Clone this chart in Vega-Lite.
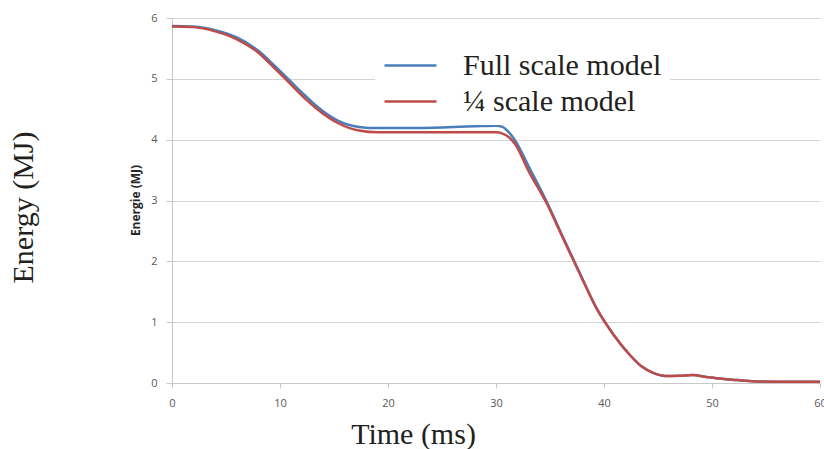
{
  "$schema": "https://vega.github.io/schema/vega-lite/v6.json",
  "width": 648,
  "height": 365,
  "autosize": {"type": "none"},
  "padding": {"left": 172, "top": 18, "right": 4, "bottom": 66},
  "background": "white",
  "title": {
    "text": "Energy (MJ)",
    "orient": "left",
    "anchor": "middle",
    "frame": "group",
    "font": "Liberation Serif",
    "fontSize": 30,
    "fontWeight": "normal",
    "color": "#231f20",
    "offset": 90,
    "dx": -7
  },
  "config": {
    "view": {"stroke": null}
  },
  "data": {
    "values": [
      {"t": 0, "e": 5.87, "model": "Full scale model"},
      {"t": 2, "e": 5.86, "model": "Full scale model"},
      {"t": 4, "e": 5.8, "model": "Full scale model"},
      {"t": 6, "e": 5.68, "model": "Full scale model"},
      {"t": 8, "e": 5.46, "model": "Full scale model"},
      {"t": 9.3, "e": 5.25, "model": "Full scale model"},
      {"t": 10.8, "e": 4.99, "model": "Full scale model"},
      {"t": 12.3, "e": 4.73, "model": "Full scale model"},
      {"t": 13.9, "e": 4.48, "model": "Full scale model"},
      {"t": 15.4, "e": 4.31, "model": "Full scale model"},
      {"t": 17.3, "e": 4.21, "model": "Full scale model"},
      {"t": 19.1, "e": 4.19, "model": "Full scale model"},
      {"t": 22, "e": 4.19, "model": "Full scale model"},
      {"t": 25, "e": 4.2, "model": "Full scale model"},
      {"t": 28, "e": 4.22, "model": "Full scale model"},
      {"t": 30, "e": 4.23, "model": "Full scale model"},
      {"t": 30.6, "e": 4.21, "model": "Full scale model"},
      {"t": 31.2, "e": 4.12, "model": "Full scale model"},
      {"t": 31.8, "e": 3.98, "model": "Full scale model"},
      {"t": 33, "e": 3.57, "model": "Full scale model"},
      {"t": 34.7, "e": 2.98, "model": "Full scale model"},
      {"t": 36.2, "e": 2.4, "model": "Full scale model"},
      {"t": 37.8, "e": 1.79, "model": "Full scale model"},
      {"t": 39.3, "e": 1.23, "model": "Full scale model"},
      {"t": 40.9, "e": 0.79, "model": "Full scale model"},
      {"t": 42.4, "e": 0.46, "model": "Full scale model"},
      {"t": 43.5, "e": 0.27, "model": "Full scale model"},
      {"t": 44.5, "e": 0.17, "model": "Full scale model"},
      {"t": 45.7, "e": 0.115, "model": "Full scale model"},
      {"t": 47, "e": 0.12, "model": "Full scale model"},
      {"t": 48.2, "e": 0.13, "model": "Full scale model"},
      {"t": 49.5, "e": 0.1, "model": "Full scale model"},
      {"t": 50.4, "e": 0.08, "model": "Full scale model"},
      {"t": 51.9, "e": 0.055, "model": "Full scale model"},
      {"t": 53.7, "e": 0.03, "model": "Full scale model"},
      {"t": 56.5, "e": 0.02, "model": "Full scale model"},
      {"t": 60, "e": 0.02, "model": "Full scale model"},
      {"t": 0, "e": 5.86, "model": "¼ scale model"},
      {"t": 2, "e": 5.85, "model": "¼ scale model"},
      {"t": 4, "e": 5.78, "model": "¼ scale model"},
      {"t": 6, "e": 5.65, "model": "¼ scale model"},
      {"t": 8, "e": 5.43, "model": "¼ scale model"},
      {"t": 9.3, "e": 5.21, "model": "¼ scale model"},
      {"t": 10.5, "e": 5.0, "model": "¼ scale model"},
      {"t": 12.3, "e": 4.68, "model": "¼ scale model"},
      {"t": 13.9, "e": 4.44, "model": "¼ scale model"},
      {"t": 15.4, "e": 4.27, "model": "¼ scale model"},
      {"t": 17.3, "e": 4.15, "model": "¼ scale model"},
      {"t": 19.1, "e": 4.12, "model": "¼ scale model"},
      {"t": 22, "e": 4.12, "model": "¼ scale model"},
      {"t": 25, "e": 4.12, "model": "¼ scale model"},
      {"t": 28, "e": 4.12, "model": "¼ scale model"},
      {"t": 30, "e": 4.12, "model": "¼ scale model"},
      {"t": 30.6, "e": 4.1, "model": "¼ scale model"},
      {"t": 31.2, "e": 4.04, "model": "¼ scale model"},
      {"t": 31.8, "e": 3.92, "model": "¼ scale model"},
      {"t": 33, "e": 3.49, "model": "¼ scale model"},
      {"t": 34.7, "e": 2.95, "model": "¼ scale model"},
      {"t": 36.2, "e": 2.38, "model": "¼ scale model"},
      {"t": 37.8, "e": 1.78, "model": "¼ scale model"},
      {"t": 39.3, "e": 1.23, "model": "¼ scale model"},
      {"t": 40.9, "e": 0.79, "model": "¼ scale model"},
      {"t": 42.4, "e": 0.46, "model": "¼ scale model"},
      {"t": 43.5, "e": 0.27, "model": "¼ scale model"},
      {"t": 44.5, "e": 0.17, "model": "¼ scale model"},
      {"t": 45.7, "e": 0.115, "model": "¼ scale model"},
      {"t": 47, "e": 0.12, "model": "¼ scale model"},
      {"t": 48.2, "e": 0.13, "model": "¼ scale model"},
      {"t": 49.5, "e": 0.1, "model": "¼ scale model"},
      {"t": 50.4, "e": 0.08, "model": "¼ scale model"},
      {"t": 51.9, "e": 0.055, "model": "¼ scale model"},
      {"t": 53.7, "e": 0.03, "model": "¼ scale model"},
      {"t": 56.5, "e": 0.02, "model": "¼ scale model"},
      {"t": 60, "e": 0.02, "model": "¼ scale model"}
    ]
  },
  "mark": {"type": "line", "interpolate": "monotone", "strokeWidth": 2.5},
  "encoding": {
    "x": {
      "field": "t",
      "type": "quantitative",
      "scale": {"domain": [0, 60], "nice": false},
      "axis": {
        "values": [0, 10, 20, 30, 40, 50, 60],
        "grid": false,
        "labelFlush": false,
        "domainColor": "#c8c8c8",
        "tickColor": "#c8c8c8",
        "tickSize": 5,
        "labelPadding": 9,
        "labelFont": "Open Sans",
        "labelFontSize": 11,
        "labelColor": "#595959",
        "title": "Time (ms)",
        "titleFont": "Liberation Serif",
        "titleFontSize": 30,
        "titleFontWeight": "normal",
        "titleColor": "#231f20",
        "titleX": 241,
        "titleY": 60,
        "titleAlign": "center",
        "titleBaseline": "alphabetic"
      }
    },
    "y": {
      "field": "e",
      "type": "quantitative",
      "scale": {"domain": [0, 6], "nice": false},
      "axis": {
        "values": [0, 1, 2, 3, 4, 5, 6],
        "grid": true,
        "gridColor": "#d4d4d4",
        "domainColor": "#c8c8c8",
        "tickColor": "#c8c8c8",
        "tickSize": 6,
        "labelPadding": 9,
        "labelFont": "Open Sans",
        "labelFontSize": 11,
        "labelColor": "#595959",
        "title": "Energie (MJ)",
        "titleFont": "Open Sans",
        "titleFontSize": 12,
        "titleFontWeight": "bold",
        "titleColor": "#262626",
        "titleAngle": -90,
        "titleX": -37,
        "titleY": 182,
        "titleAlign": "center",
        "titleBaseline": "middle"
      }
    },
    "color": {
      "field": "model",
      "type": "nominal",
      "scale": {"domain": ["Full scale model", "¼ scale model"], "range": ["#4a7ebb", "#be4b48"]},
      "legend": {
        "title": null,
        "orient": "none",
        "legendX": 203,
        "legendY": 23,
        "fillColor": "white",
        "padding": 8,
        "symbolType": "M-1.733,0H1.733",
        "symbolSize": 900,
        "symbolOffset": 11,
        "symbolStrokeWidth": 2.5,
        "labelOffset": 36,
        "labelFont": "Liberation Serif",
        "labelFontSize": 30,
        "labelColor": "#231f20",
        "labelLimit": 400,
        "rowPadding": 4
      }
    }
  }
}
